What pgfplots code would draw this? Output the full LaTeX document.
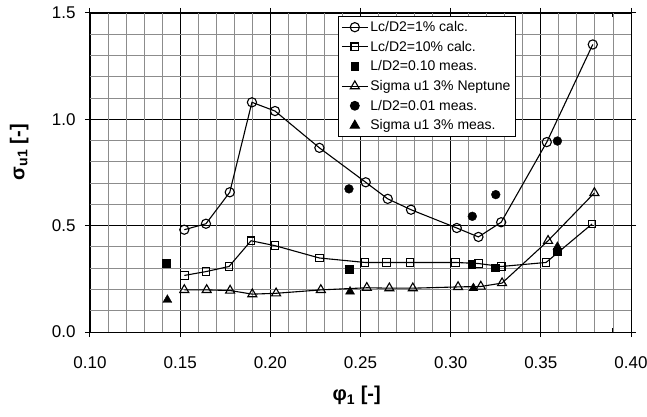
\documentclass[border=0pt]{standalone}
\usepackage{pgfplots}
\pgfplotsset{compat=1.18}
\usepackage{fontspec}
\setmainfont{Liberation Sans}

\begin{document}
\begin{tikzpicture}
\begin{axis}[
    at={(0,0)}, anchor=south west,
    scale only axis,
    width=541pt, height=319pt,
    xmin=0.10, xmax=0.40,
    ymin=0, ymax=1.5,
    xtick={0.10,0.15,...,0.401},
    ytick={0,0.5,1.0,1.5},
    extra x ticks={0.11,0.12,0.13,0.14,0.16,0.17,0.18,0.19,0.21,0.22,0.23,0.24,0.26,0.27,0.28,0.29,0.31,0.32,0.33,0.34,0.36,0.37,0.38,0.39},
    extra y ticks={0.1,0.2,0.3,0.4,0.6,0.7,0.8,0.9,1.1,1.2,1.3,1.4},
    extra x tick labels={},
    extra y tick labels={},
    extra tick style={grid=none, major tick length=4pt, tick align=inside},
    xmajorgrids=true, ymajorgrids=true,
    major grid style={color=black, line width=0.7pt},
    axis line style={black, line width=1pt},
    tick align=center,
    major tick length=10pt,
    tick style={black, line width=1pt},
    /pgf/number format/assume math mode=true,
    xticklabel style={/pgf/number format/fixed, /pgf/number format/fixed zerofill, /pgf/number format/precision=2, yshift=-16pt},
    yticklabel style={/pgf/number format/fixed, /pgf/number format/fixed zerofill, /pgf/number format/precision=1, xshift=-6pt},
    tick label style={font=\fontsize{17}{20}\selectfont},
    xlabel={\textbf{φ\textsubscript{1} [-]}},
    ylabel={\textbf{σ\textsubscript{u1} [-]}},
    label style={font=\fontsize{20}{24}\selectfont},
    xlabel style={at={(axis description cs:0.493,-0.20)}, anchor=center},
    ylabel style={at={(axis description cs:-0.131,0.564)}, anchor=center, rotate=0},
    legend style={at={(0.458,0.991)}, anchor=north west, draw=black, line width=1pt,
        fill=white, font=\fontsize{14}{16}\selectfont, row sep=4pt,
        inner sep=3pt},
    legend cell align=left,
    legend image code/.code={
        \draw[mark repeat=2, mark phase=2, #1] plot coordinates {(0pt,0pt) (13pt,0pt) (26pt,0pt)};
    },
]

% minor grid (gray, 0.01 / 0.1 spacing)
\pgfplotsinvokeforeach{0.11,0.12,0.13,0.14,0.16,0.17,0.18,0.19,0.21,0.22,0.23,0.24,0.26,0.27,0.28,0.29,0.31,0.32,0.33,0.34,0.36,0.37,0.38,0.39}{
    \draw[black!45, line width=0.9pt] (axis cs:#1,0) -- (axis cs:#1,1.5);
}
\pgfplotsinvokeforeach{0.1,0.2,0.3,0.4,0.6,0.7,0.8,0.9,1.1,1.2,1.3,1.4}{
    \draw[black!45, line width=0.9pt] (axis cs:0.10,#1) -- (axis cs:0.40,#1);
}

% Lc/D2=1% calc.
\addplot[black, line width=1.1pt, mark=o, mark size=4.6pt, mark options={fill=white, line width=1.1pt}] coordinates {
    (0.1523,0.481) (0.1643,0.509) (0.1775,0.657) (0.1898,1.080) (0.2026,1.039)
    (0.2272,0.866) (0.2529,0.704) (0.2651,0.626) (0.2780,0.575) (0.3034,0.489)
    (0.3154,0.447) (0.3280,0.516) (0.3533,0.893) (0.3788,1.352)
};
\addlegendentry{Lc/D2=1\% calc.}

% Lc/D2=10% calc.
\addplot[black, line width=1.1pt, mark=square, mark size=3.8pt, mark options={fill=white, line width=1.1pt}] coordinates {
    (0.1523,0.266) (0.1643,0.284) (0.1771,0.308) (0.1893,0.429) (0.2026,0.406)
    (0.2272,0.348) (0.2525,0.327) (0.2645,0.327) (0.2775,0.327) (0.3028,0.327)
    (0.3154,0.322) (0.3280,0.308) (0.3529,0.327) (0.3784,0.508)
};
\addlegendentry{Lc/D2=10\% calc.}

% L/D2=0.10 meas.
\addplot[only marks, black, mark=square*, mark size=3.8pt] coordinates {
    (0.1422,0.324) (0.2436,0.296) (0.3117,0.318) (0.3246,0.303) (0.3592,0.377)
};
\addlegendentry{L/D2=0.10 meas.}

% Sigma u1 3% Neptune
\addplot[black, line width=1.1pt, mark=triangle, mark size=5.2pt, mark options={fill=white, line width=1.1pt}] coordinates {
    (0.1523,0.198) (0.1647,0.198) (0.1777,0.195) (0.1900,0.178) (0.2032,0.182)
    (0.2280,0.198) (0.2535,0.208) (0.2660,0.206) (0.2790,0.206) (0.3041,0.212)
    (0.3167,0.214) (0.3285,0.230) (0.3540,0.429) (0.3797,0.654)
};
\addlegendentry{Sigma u1 3\% Neptune}

% L/D2=0.01 meas.
\addplot[only marks, black, mark=*, mark size=4.4pt] coordinates {
    (0.2436,0.673) (0.3120,0.544) (0.3250,0.646) (0.3592,0.898)
};
\addlegendentry{L/D2=0.01 meas.}

% Sigma u1 3% meas.
\addplot[only marks, black, mark=triangle*, mark size=5.2pt] coordinates {
    (0.1429,0.151) (0.2442,0.190) (0.3126,0.206) (0.3592,0.400)
};
\addlegendentry{Sigma u1 3\% meas.}

\end{axis}
\pgfresetboundingbox
\path[use as bounding box] (-90pt,-85pt) rectangle (557pt,332pt);
\end{tikzpicture}
\end{document}
